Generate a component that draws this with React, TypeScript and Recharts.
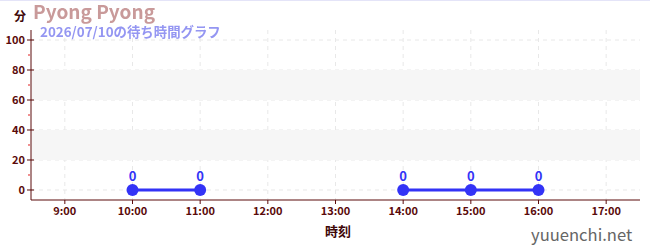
import { CartesianGrid, LabelList, Line, LineChart, ReferenceArea, XAxis, YAxis } from 'recharts';

const hours = [10, 11, 12, 13, 14, 15, 16];
const waits: (number | null)[] = [0, 0, null, null, 0, 0, 0];
const xTicks = [9, 10, 11, 12, 13, 14, 15, 16, 17];
const yMajor = [0, 20, 40, 60, 80, 100];
const yAll = [0, 10, 20, 30, 40, 50, 60, 70, 80, 90, 100];
const bands: [number, number][] = [[20, 40], [60, 80]];

const data = hours.map((h, i) => ({ hour: h, wait: waits[i] }));

const FONT = '"Noto Sans CJK JP", "Noto Sans", sans-serif';
const AXIS = '#5a0a0a';
const BLUE = '#3333f6';

function YTick({ x, y, payload }: any) {
    const ax = x + 6;
    const major = payload.value % 20 === 0;
    if (!major) {
        return <line x1={ax - 3} x2={ax - 1} y1={y} y2={y} stroke="#e02020" strokeWidth={1} />;
    }
    return (
        <g>
            <line x1={ax - 4} x2={ax + 3} y1={y} y2={y} stroke={AXIS} strokeWidth={1} />
            <text x={ax - 6} y={y} dy={4} textAnchor="end" fontSize={11} fontWeight="bold" fill={AXIS} fontFamily={FONT}>
                {payload.value}
            </text>
        </g>
    );
}

export default function App() {
    return (
        <div style={{ position: 'fixed', left: 0, top: 0, width: 650, height: 250, background: '#fff', fontFamily: FONT }}>
            <div style={{ position: 'absolute', left: 0, top: 0, width: 650, height: 1, background: '#e4e4f8' }} />
            <LineChart width={650} height={250} data={data} margin={{ top: 30, right: 10, bottom: 20, left: 0 }}>
                {bands.map(([a, b]) => (
                    <ReferenceArea key={a} y1={a} y2={b} fill="#f6f6f6" fillOpacity={1} stroke="none" />
                ))}
                <CartesianGrid stroke="#e8e8e8" strokeDasharray="4 4" horizontalValues={yMajor} verticalValues={xTicks} />
                <XAxis
                    dataKey="hour"
                    type="number"
                    domain={[8.5, 17.5]}
                    ticks={xTicks}
                    tickFormatter={(h) => `${h}:00`}
                    height={30}
                    tickSize={4}
                    tickMargin={3}
                    stroke={AXIS}
                    tick={{ fontSize: 11, fontWeight: 'bold', fill: AXIS, fontFamily: FONT }}
                />
                <YAxis
                    type="number"
                    domain={[-6.67, 106.67]}
                    ticks={yAll}
                    width={31}
                    tickSize={4}
                    tickMargin={2}
                    tickLine={false}
                    stroke={AXIS}
                    allowDataOverflow
                    interval={0}
                    tick={<YTick />}
                />
                <Line
                    dataKey="wait"
                    stroke={BLUE}
                    strokeWidth={3}
                    dot={{ r: 6, fill: BLUE, stroke: BLUE, strokeWidth: 0 }}
                    activeDot={false}
                    connectNulls={false}
                    isAnimationActive={false}
                >
                    <LabelList dataKey="wait" position="top" offset={9} fill={BLUE} fontSize={13} fontWeight="bold" fontFamily={FONT} />
                </Line>
            </LineChart>
            <div style={{ position: 'absolute', left: 14, top: 8, fontSize: 12, fontWeight: 'bold', color: '#400808', lineHeight: '16px' }}>分</div>
            <div style={{ position: 'absolute', left: 33, top: 0, fontSize: 19, fontWeight: 'bold', color: '#c99a9a', lineHeight: '21px' }}>Pyong Pyong</div>
            <div style={{ position: 'absolute', left: 40, top: 23, fontSize: 13.4, fontWeight: 'bold', color: '#9496f2', lineHeight: '17px' }}>2026/07/10の待ち時間グラフ</div>
            <div style={{ position: 'absolute', left: 325, top: 222, fontSize: 13, fontWeight: 'bold', color: '#400808', lineHeight: '18px' }}>時刻</div>
            <div style={{ position: 'absolute', left: 531, top: 223, fontSize: 16.6, color: '#666', lineHeight: '22px' }}>yuuenchi.net</div>
        </div>
    );
}
